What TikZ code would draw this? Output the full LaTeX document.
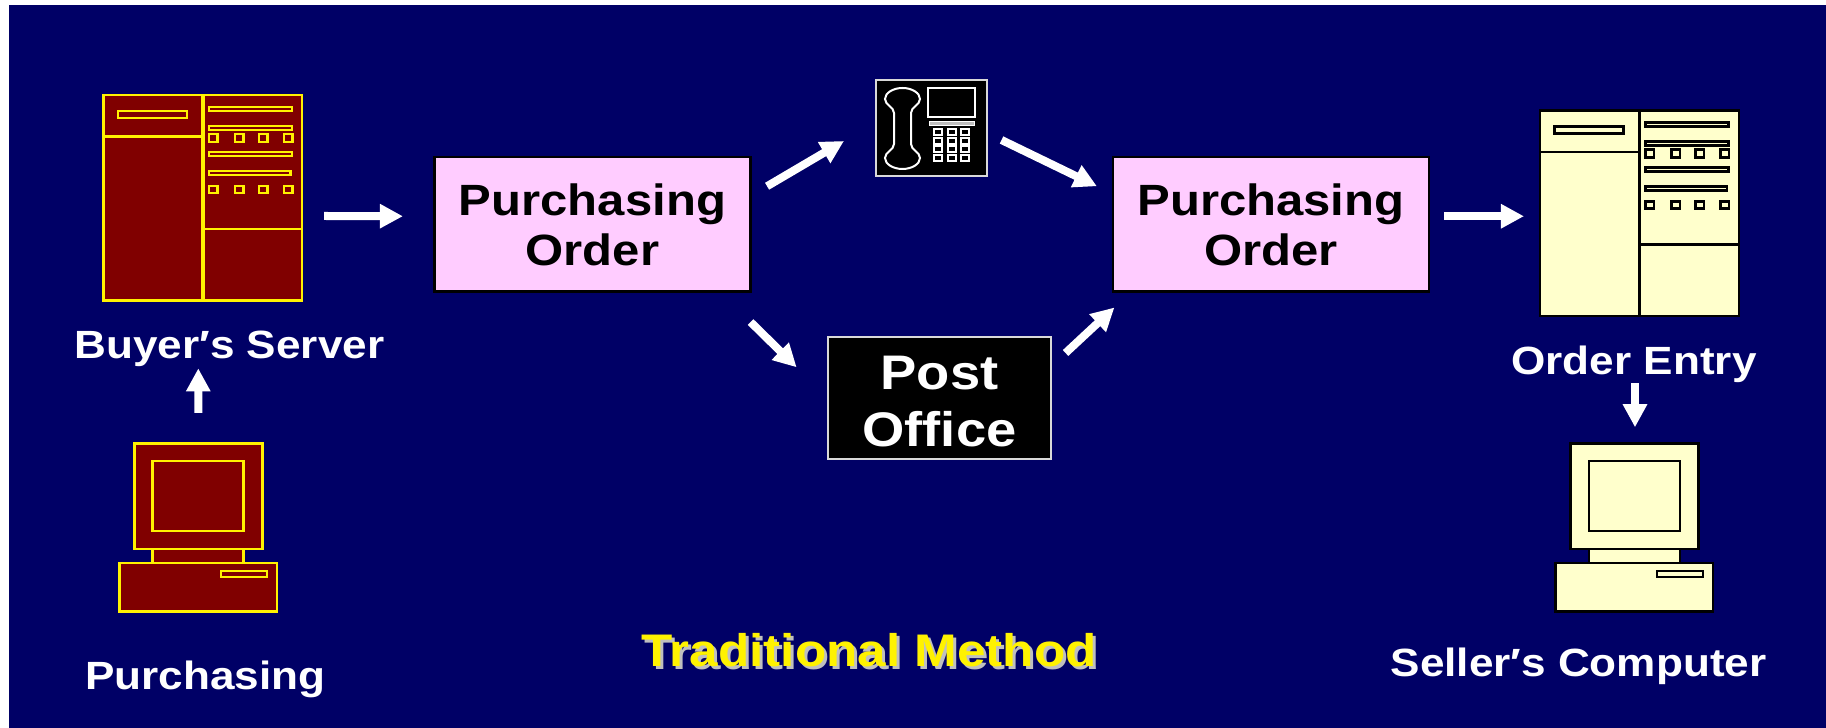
\documentclass[tikz,border=0pt]{standalone}
\usepackage{fontspec}
\setmainfont[FakeStretch=1.12]{Liberation Sans}
\usetikzlibrary{arrows.meta}
\definecolor{slidebg}{RGB}{0,0,102}
\definecolor{iconred}{RGB}{128,0,0}
\definecolor{iconcream}{RGB}{255,255,204}
\definecolor{orderpink}{RGB}{255,204,255}
\tikzset{
  x=0.01cm, y=-0.01cm,
  every node/.style={outer sep=0pt},
  flow/.style={draw=white, line width=0.08cm, -{Triangle[length=0.23cm, width=0.23cm]}},
  caption/.style={anchor=base, text=white, font=\fontsize{11.2}{14}\selectfont\bfseries},
  orderbox/.style={draw=black, line width=0.025cm, fill=orderpink, minimum width=3.16cm, minimum height=1.345cm,
    inner sep=0pt, align=center, text depth=0pt, font=\fontsize{12.45}{14.25}\selectfont\bfseries},
  blackbox/.style={draw=white!85!black, line width=0.02cm, fill=black, inner sep=0pt},
  cabinet/.style={line width=0.025cm, minimum width=1.985cm, minimum height=2.055cm, inner sep=0pt},
  monitor/.style={line width=0.025cm, minimum width=1.28cm, minimum height=1.057cm, inner sep=0pt},
  pics/cabinetparts/.style 2 args={code={
    \begin{scope}[draw=#1, fill=#2, line width=0.025cm]
      \draw (0,41.7) -- (99.5,41.7);
      \draw (99.5,134) -- (198.5,134);
      \draw[line width=0.035cm] (99.5,0) -- (99.5,205.5);
      \filldraw (14.5,16) rectangle (83.5,23);
      \foreach \ypos/\xend in {12/188.5, 31/188.5, 57/188.5, 76/187}
        \filldraw (105.5,\ypos) rectangle (\xend,\ypos+4);
      \foreach \xpos in {105.5,131.5,155.5,180.5} {
        \filldraw (\xpos,39) rectangle (\xpos+8.5,47);
        \filldraw (\xpos,91) rectangle (\xpos+8.5,98);
      }
    \end{scope}
  }},
  pics/monitorparts/.style 2 args={code={
    \begin{scope}[draw=#1, fill=#2, line width=0.025cm]
      \filldraw (18.4,17.7) rectangle (109.4,87.7);
      \filldraw (18.4,105.7) rectangle (109.4,119.7);
      \filldraw (-15,119.7) rectangle (142.7,168.3);
      \filldraw (86.7,127.7) rectangle (132.7,133.7);
    \end{scope}
  }}
}
\begin{document}
\begin{tikzpicture}
  \useasboundingbox (0,0) rectangle (1826,728);
  \fill[white] (0,0) rectangle (1826,728);
  \fill[slidebg] (9,5) rectangle (1826,728);

  % machines on both sides
  \node[cabinet, draw=yellow, fill=iconred] (buyer) at (202.75,197.75) {};
  \pic at (buyer.north west) {cabinetparts={yellow}{iconred}};
  \node[cabinet, draw=black, fill=iconcream] (order) at (1639.5,213.25) {};
  \pic at (order.north west) {cabinetparts={black}{iconcream}};
  \node[monitor, draw=yellow, fill=iconred] (purch) at (198.3,496.15) {};
  \pic at (purch.north west) {monitorparts={yellow}{iconred}};
  \node[monitor, draw=black, fill=iconcream] (seller) at (1634.5,496.15) {};
  \pic at (seller.north west) {monitorparts={black}{iconcream}};

  % the two order boxes and the two channels
  \node[orderbox] (po1) at (592.5,224.25) {Purchasing\\Order};
  \node[orderbox] (po2) at (1271,224.25) {Purchasing\\Order};
  \node[blackbox, minimum width=2.22cm, minimum height=1.22cm, text=white, align=center, text depth=0pt,
    font=\fontsize{13.8}{16.4}\selectfont\bfseries] (post) at (939.5,398) {\rule{0pt}{11.4pt}Post\\Office};
  \node[blackbox, minimum width=1.11cm, minimum height=0.96cm] (phone) at (931.5,128) {};

  % phone
  \draw[white, line width=0.02cm] (894,113) .. controls (894,107) and (885,105) .. (885,99)
    .. controls (885,93) and (893,88) .. (902.5,88) .. controls (912,88) and (920,93) .. (920,99)
    .. controls (920,105) and (911,107) .. (911,113) -- (911,144)
    .. controls (911,150) and (920,152) .. (920,158) .. controls (920,164) and (912,169) .. (902.5,169)
    .. controls (893,169) and (885,164) .. (885,158) .. controls (885,152) and (894,150) .. (894,144) -- cycle;
  \draw[white, line width=0.02cm] (928,88) rectangle (975,117);
  \draw[white, fill=white!75!black, line width=0.01cm] (929,122) rectangle (974,126);
  \foreach \xpos in {934,947.5,961}
    \foreach \ypos in {129,138,146.5,155}
      \draw[white, line width=0.02cm] (\xpos,\ypos) rectangle (\xpos+8,\ypos+6);

  % captions
  \node[caption] (buyerlabel) at (229.5,359) {Buyer′s Server};
  \node[caption] (purchlabel) at (205.5,690) {Purchasing};
  \node[caption] (orderlabel) at (1634,375) {Order Entry};
  \node[caption] (sellerlabel) at (1578.5,677) {Seller′s Computer};
  \node[anchor=base, text=white!75!black, font=\fontsize{13}{16}\selectfont\bfseries] (titleshadow) at (872,670) {Traditional Method};
  \node[anchor=base, text=yellow, font=\fontsize{13}{16}\selectfont\bfseries] (title) at (869,667) {Traditional Method};

  % arrows
  \draw[flow] ([shift={(22,18.25)}]buyer.east) -- ([shift={(-31.5,-8)}]po1.west);
  \draw[flow] ([shift={(16.5,-38)}]po1.east) -- ([shift={(-32,13)}]phone.west);
  \draw[flow] ([shift={(0,30.5)}]po1.south east) -- ([shift={(-31.8,-30.7)}]post.west);
  \draw[flow] ([shift={(14.5,12)}]phone.east) -- ([shift={(-16,-38)}]po2.west);
  \draw[flow] ([shift={(15,-45)}]post.east) -- ([shift={(1.5,16)}]po2.south west);
  \draw[flow] ([shift={(15.3,-8)}]po2.east) -- ([shift={(-16.2,3)}]order.west);
  \draw[flow] ([shift={(0,-30.3)}]purch.north) -- ([shift={(-4.45,67.8)}]buyer.south);
  \draw[flow] ([shift={(-4.5,67)}]order.south) -- ([shift={(0.5,-16)}]seller.north);
\end{tikzpicture}
\end{document}
